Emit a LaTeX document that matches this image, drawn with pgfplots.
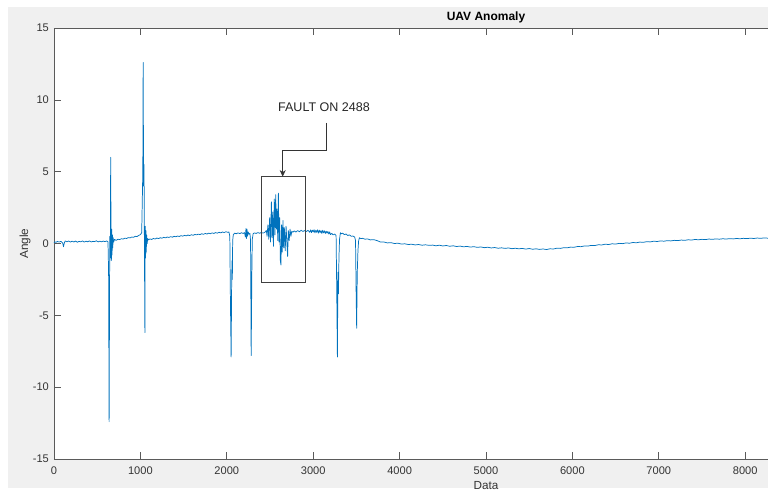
\documentclass[border=0pt]{standalone}
\usepackage{pgfplots}
\pgfplotsset{compat=1.18}
\usepackage{fontspec}
\setmainfont{Liberation Sans}
\usetikzlibrary{arrows.meta}
\definecolor{mlblue}{RGB}{0,114,189}
\definecolor{figbg}{RGB}{240,240,240}
\definecolor{axgray}{RGB}{90,90,90}

\begin{document}
\begin{tikzpicture}
% figure background
\fill[figbg] (-34.5pt,-21.75pt) rectangle (540pt,339pt);
\begin{axis}[
  at={(0pt,0pt)}, anchor=south west,
  scale only axis, width=648pt, height=323.25pt,
  xmin=0, xmax=10000, ymin=-15, ymax=15,
  xtick={0,1000,...,8000}, ytick={-15,-10,...,15},
  extra x ticks={9000,10000}, extra x tick labels={},
  scaled x ticks=false, scaled y ticks=false,
  axis background/.style={fill=white},
  axis line style={axgray, line width=0.6pt},
  tick style={axgray, line width=0.5pt},
  major tick length=5pt, tick align=inside,
  /pgf/number format/1000 sep={},
  /pgf/number format/assume math mode=true,
  ticklabel style={font=\fontsize{8.3}{10}\selectfont, text=black!80},
  xticklabel style={yshift=-2.2pt},
  yticklabel style={xshift=-0.3pt},
  title={\textbf{UAV Anomaly}},
  every axis title/.style={at={(0.5,1)}, anchor=center, yshift=8.25pt, font=\fontsize{9}{11}\selectfont},
  xlabel={Data},
  every axis x label/.style={at={(0.5,0)}, anchor=center, yshift=-20.25pt, font=\fontsize{8.8}{10}\selectfont, text=black!80},
  ylabel={Angle},
  every axis y label/.style={at={(0,0.5)}, anchor=center, rotate=90, yshift=21.75pt, font=\fontsize{8.8}{10}\selectfont, text=black!80},
  clip=true,
]
\addplot[mlblue, line width=0.55pt, line join=round] coordinates {
(0,0.05) (10,0.12) (20,0.08) (40,0.14) (60,0.10) (80,0.15) (100,0.04) (110,-0.22) (120,0.05)
(130,0.18) (150,0.12) (170,0.17) (190,0.10) (210,0.16) (230,0.11) (250,0.17) (270,0.09)
(290,0.15) (310,0.12) (330,0.18) (350,0.10) (370,0.16) (390,0.12) (410,0.18) (430,0.11)
(450,0.15) (470,0.13) (490,0.19) (510,0.11) (530,0.16) (550,0.12) (570,0.17) (590,0.13)
(610,0.18) (625,0.12)
(632,-2.0) (638,-12.4) (643,-3.0) (646,0.5) (652,-1.0) (656,6.0) (660,0.8) (664,-1.2)
(668,1.0) (672,-0.8) (676,0.6) (680,-0.3) (685,0.4) (690,0.1) (700,0.28)
(720,0.22) (740,0.30) (760,0.27) (780,0.33) (800,0.31) (820,0.37) (840,0.35) (860,0.41)
(880,0.39) (900,0.45) (920,0.43) (940,0.50) (960,0.48) (980,0.56) (1000,0.62) (1015,0.75)
(1028,5.0) (1032,12.6) (1037,4.0) (1042,5.5) (1046,0.5) (1052,-6.2) (1056,1.2) (1060,-1.0)
(1064,0.9) (1068,-0.6) (1072,0.6) (1078,0.0) (1085,0.35) (1095,0.25)
(1110,0.32) (1130,0.28) (1150,0.35) (1170,0.31) (1190,0.38) (1210,0.34) (1230,0.40)
(1250,0.37) (1270,0.43) (1290,0.39) (1310,0.45) (1330,0.42) (1350,0.48) (1370,0.44)
(1390,0.50) (1410,0.47) (1430,0.52) (1450,0.49) (1470,0.55) (1490,0.51) (1510,0.57)
(1530,0.53) (1550,0.59) (1570,0.55) (1590,0.61) (1610,0.57) (1630,0.63) (1650,0.60)
(1670,0.65) (1690,0.62) (1710,0.68) (1730,0.64) (1750,0.70) (1770,0.66) (1790,0.72)
(1810,0.68) (1830,0.74) (1850,0.70) (1870,0.76) (1890,0.72) (1910,0.78) (1930,0.74)
(1950,0.80) (1970,0.76) (1990,0.82) (2010,0.78) (2025,0.80)
(2035,0.5) (2042,-4.0) (2050,-7.9) (2056,-3.0) (2060,-1.2) (2064,-2.5) (2068,0.2) (2075,0.6)
(2090,0.72) (2110,0.68) (2130,0.74) (2150,0.69) (2170,0.75) (2190,0.70) (2205,0.76)
(2215,0.45) (2222,1.05) (2228,0.35) (2234,1.0) (2240,0.5) (2248,0.8) (2258,0.65) (2268,0.7)
(2275,0.2) (2282,-7.8) (2290,-2.0) (2295,0.3) (2305,0.68) (2320,0.74) (2340,0.70)
(2360,0.76) (2380,0.71) (2400,0.77) (2420,0.72) (2440,0.78)
(2458,0.9) (2466,0.5) (2476,1.3) (2486,0.3) (2496,1.8) (2506,0.1) (2516,2.9) (2524,0.4)
(2532,2.2) (2540,-0.2) (2550,3.1) (2558,0.6) (2566,3.4) (2574,1.0) (2582,2.4) (2590,0.2)
(2597,3.5) (2604,0.1) (2612,1.8) (2620,-1.2) (2627,-1.5) (2634,1.3) (2642,-0.6) (2650,1.6)
(2658,-0.3) (2666,1.1) (2676,-0.5) (2686,1.2) (2696,0.0) (2704,-0.9) (2712,0.9) (2722,0.2)
(2732,1.0) (2742,0.5) (2752,0.85) (2765,0.78)
(2780,0.88) (2800,0.80) (2820,0.90) (2840,0.82) (2860,0.92) (2880,0.84) (2900,0.90)
(2920,0.83) (2940,0.92) (2960,0.78) (2970,0.95) (2980,0.76) (2990,0.93) (3000,0.80)
(3010,0.96) (3020,0.74) (3030,0.92) (3040,0.78) (3050,0.95) (3060,0.72) (3070,0.93)
(3080,0.76) (3090,0.90) (3100,0.70) (3110,0.92) (3120,0.74) (3130,0.88) (3140,0.70)
(3150,0.86) (3160,0.72) (3170,0.84) (3180,0.66) (3190,0.80) (3200,0.62) (3215,0.70)
(3230,0.60) (3250,0.66) (3265,0.55)
(3272,-3.0) (3280,-7.9) (3286,-2.0) (3292,-3.5) (3298,-1.0) (3305,0.3) (3315,0.75)
(3325,0.68) (3340,0.72) (3360,0.62) (3380,0.66) (3400,0.56) (3420,0.60) (3440,0.50)
(3460,0.52) (3480,0.45) (3490,0.2) (3497,-3.5) (3503,-5.9) (3510,-2.0) (3518,-0.5)
(3526,0.2) (3535,0.40) (3550,0.34)
(3570,0.36) (3600,0.30) (3630,0.32) (3660,0.25) (3700,0.27) (3740,0.20) (3780,0.10)
(3820,0.10) (3860,0.04) (3900,0.06) (3940,0.00) (3980,0.02) (4020,-0.04) (4060,-0.02)
(4100,-0.07) (4140,-0.05) (4180,-0.10) (4220,-0.07) (4260,-0.12) (4300,-0.09) (4340,-0.13)
(4380,-0.11) (4420,-0.16) (4460,-0.12) (4500,-0.17) (4540,-0.14) (4580,-0.19) (4620,-0.16)
(4660,-0.21) (4700,-0.18) (4740,-0.23) (4780,-0.20) (4820,-0.25) (4860,-0.22) (4900,-0.27)
(4940,-0.24) (4980,-0.29) (5020,-0.26) (5060,-0.31) (5100,-0.28) (5140,-0.33) (5180,-0.30)
(5220,-0.34) (5260,-0.31) (5300,-0.36) (5340,-0.33) (5380,-0.37) (5420,-0.34) (5460,-0.39)
(5500,-0.35) (5540,-0.40) (5580,-0.37) (5620,-0.41) (5660,-0.38) (5700,-0.42) (5740,-0.37)
(5780,-0.38) (5820,-0.33) (5860,-0.34) (5900,-0.29) (5940,-0.30) (5980,-0.25) (6020,-0.26)
(6060,-0.21) (6100,-0.22) (6140,-0.17) (6180,-0.18) (6220,-0.13) (6260,-0.14) (6300,-0.09)
(6340,-0.10) (6380,-0.05) (6420,-0.07) (6460,-0.02) (6500,-0.04) (6540,0.01) (6580,-0.01)
(6620,0.04) (6660,0.02) (6700,0.07) (6740,0.05) (6780,0.10) (6820,0.08) (6860,0.13)
(6900,0.11) (6940,0.16) (6980,0.14) (7020,0.18) (7060,0.16) (7100,0.20) (7140,0.18)
(7180,0.22) (7220,0.20) (7260,0.24) (7300,0.22) (7340,0.26) (7380,0.24) (7420,0.28)
(7460,0.26) (7500,0.29) (7540,0.27) (7580,0.31) (7620,0.29) (7660,0.32) (7700,0.30)
(7740,0.33) (7780,0.31) (7820,0.34) (7860,0.32) (7900,0.35) (7940,0.33) (7980,0.36)
(8020,0.34) (8060,0.37) (8100,0.35) (8140,0.38) (8180,0.36) (8220,0.39) (8260,0.37)
(8300,0.40) (8340,0.38) (8380,0.40)
};
% fault annotation
\draw[black!75, line width=0.7pt] (axis cs:2404,-2.68) rectangle (axis cs:2905,4.65);
\draw[black!80, line width=0.6pt, -{Stealth[length=5pt,width=4.5pt]}]
  (axis cs:3148,8.39) -- (axis cs:3148,6.51) -- (axis cs:2647,6.51) -- (axis cs:2647,4.65);
\node[font=\fontsize{9.4}{11}\selectfont, text=black!85] at (axis cs:3125,9.48) {FAULT ON 2488};
\end{axis}
\pgfresetboundingbox
\path[use as bounding box] (-40.5pt,-26.25pt) rectangle (535.5pt,344.25pt);
\end{tikzpicture}
\end{document}
